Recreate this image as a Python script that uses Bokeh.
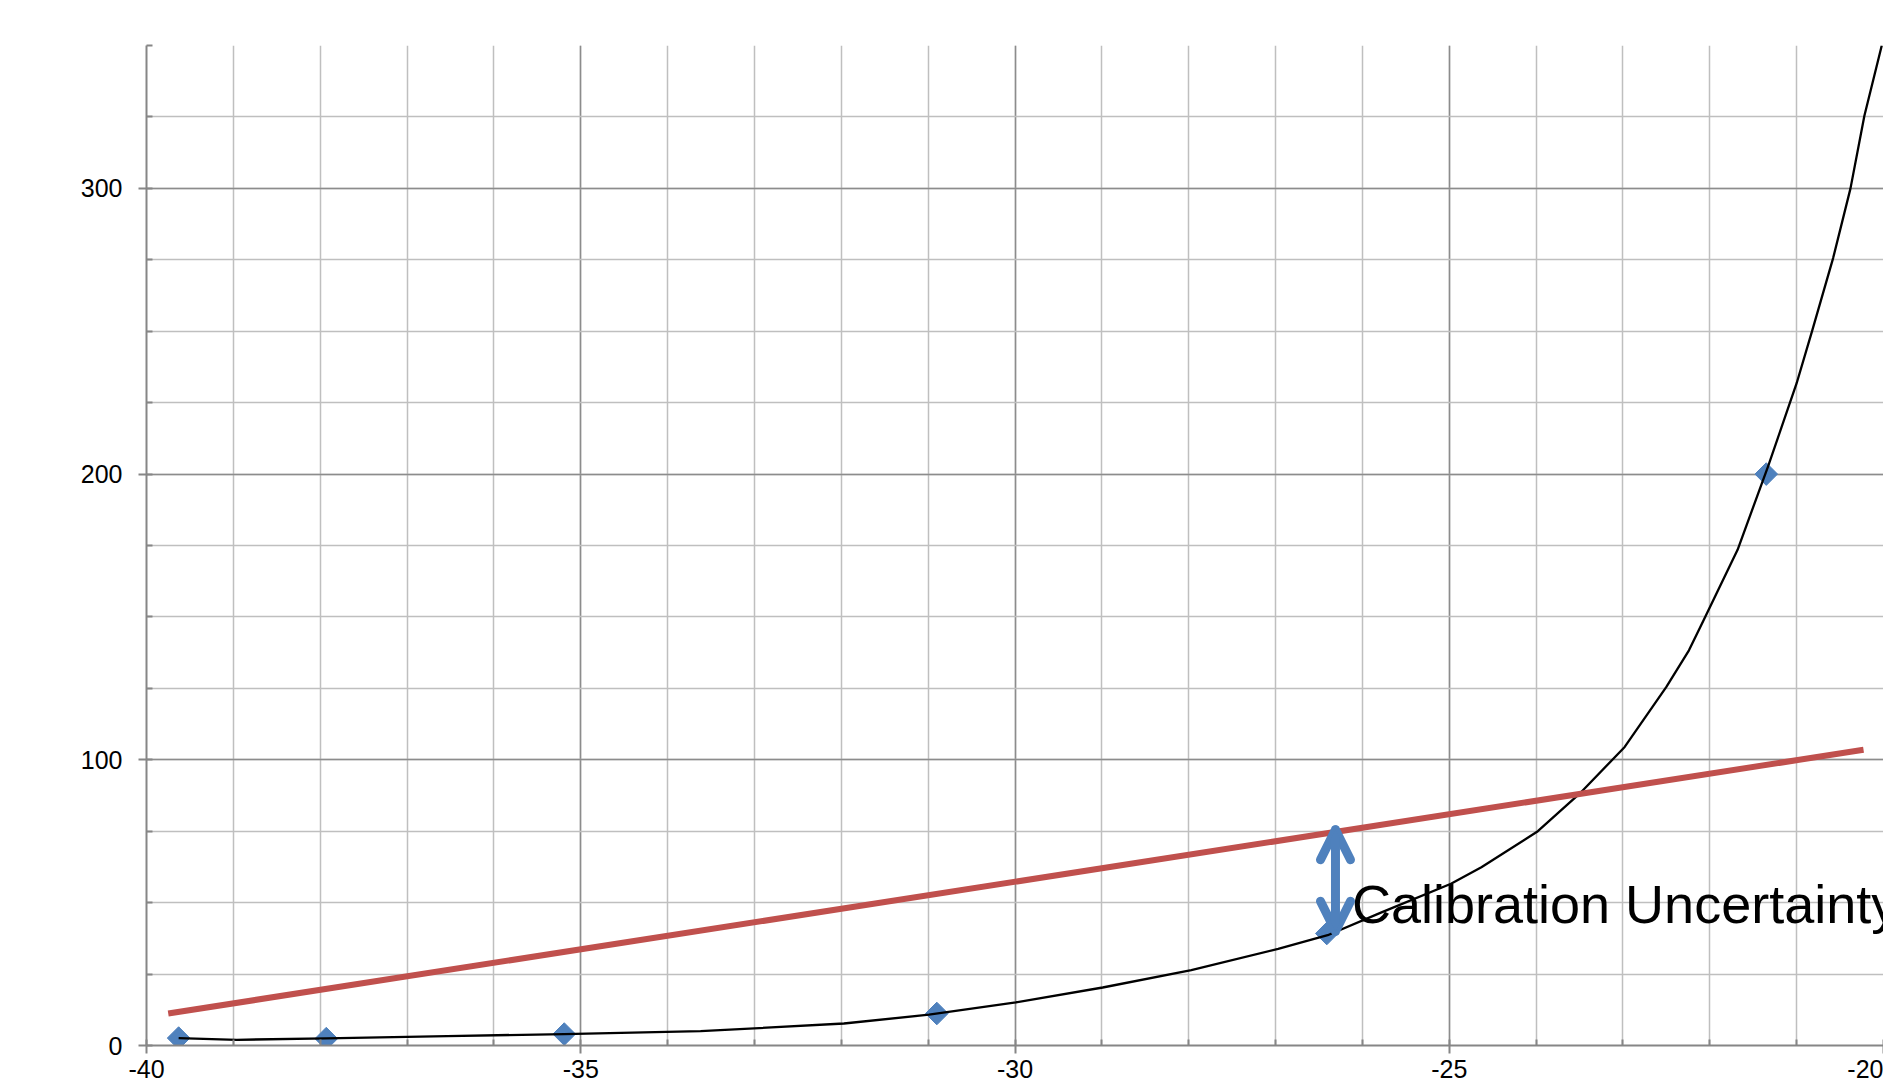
from bokeh.plotting import figure
from bokeh.models import Range1d, SingleIntervalTicker, Arrow, OpenHead
from bokeh.core.properties import value
from bokeh.embed import file_html
from bokeh.resources import INLINE

# measured points (blue diamonds)
point_x = [-39.63, -37.93, -35.19, -30.90, -26.41, -21.35]
point_y = [2.6, 2.4, 4.0, 11.2, 39.2, 200.0]

# black fitted curve, read along its path
curve_x = [-39.63, -38.96, -37.93, -36.54, -35.19, -33.62, -31.97, -30.99,
           -29.99, -28.99, -27.97, -26.97, -26.40, -25.78, -24.98, -24.63,
           -23.98, -23.48, -22.98, -22.50, -22.24, -22.07, -21.68,
           -21.33, -21.00, -20.82, -20.58, -20.38, -20.22, -20.02]
curve_y = [2.6, 2.0, 2.5, 3.3, 4.0, 5.0, 7.7, 10.8,
           15.1, 20.3, 26.4, 33.8, 38.6, 46.6, 56.6, 62.4,
           75.0, 88.7, 104.5, 125.5, 138.3, 148.9, 173.5,
           202.6, 231.8, 250.3, 275.6, 300.0, 325.4, 350.0]

# red calibration line
cal_x = [-39.75, -20.23]
cal_y = [11.2, 103.5]

# annotation
arrow_x = -26.31
arrow_y = [40.0, 75.5]
label_text = ["Calibration Uncertainty"]
label_x = [-26.12]
label_y = [49.4]

x_range = (-40, -20)
y_range = (0, 350)
x_tick_labels = {-40: "-40", -35: "-35", -30: "-30", -25: "-25", -20: "-20"}

p = figure(width=1883, height=1088,
           x_range=Range1d(*x_range), y_range=Range1d(*y_range),
           output_backend="svg", toolbar_location=None,
           min_border_left=146, min_border_right=0,
           min_border_top=45, min_border_bottom=43)
p.outline_line_color = None
p.background_fill_color = "white"
p.border_fill_color = "white"

xt = SingleIntervalTicker(interval=5, num_minor_ticks=5)
yt = SingleIntervalTicker(interval=100, num_minor_ticks=4)
p.xaxis.ticker = xt
p.yaxis.ticker = yt
p.xgrid.ticker = xt
p.ygrid.ticker = yt
p.xaxis.major_label_overrides = x_tick_labels

for g in (p.xgrid, p.ygrid):
    g.grid_line_color = "#8c8c8c"
    g.grid_line_width = 1.5
    g.minor_grid_line_color = "#bfbfbf"
    g.minor_grid_line_width = 1.5

for ax in (p.xaxis, p.yaxis):
    ax.axis_line_color = "#868686"
    ax.axis_line_width = 2
    ax.major_tick_line_color = "#868686"
    ax.major_tick_line_width = 2
    ax.major_tick_out = 8
    ax.major_tick_in = 0
    ax.minor_tick_line_color = "#868686"
    ax.minor_tick_line_width = 2
    ax.minor_tick_in = 6
    ax.minor_tick_out = 0
    ax.major_label_text_font = "Liberation Sans"
    ax.major_label_text_font_size = "25px"
    ax.major_label_text_color = "black"
p.yaxis.major_label_standoff = 16
p.xaxis.major_label_standoff = 6

p.scatter(point_x, point_y, marker="square", size=16, angle=0.785398,
          fill_color="#4F81BD", line_color="#4F81BD")
p.line(curve_x, curve_y, line_color="black", line_width=2.3, line_join="round")
p.line(cal_x, cal_y, line_color="#C0504D", line_width=6)

blue = "#4F81BD"
p.add_layout(Arrow(
    start=OpenHead(size=30, line_color=blue, line_width=9, line_cap="round", line_join="round"),
    end=OpenHead(size=30, line_color=blue, line_width=9, line_cap="round", line_join="round"),
    x_start=arrow_x, y_start=arrow_y[0], x_end=arrow_x, y_end=arrow_y[1],
    line_color=blue, line_width=9, line_cap="round"))

p.text(x=label_x, y=label_y, text=label_text, text_font=value("Liberation Sans"),
       text_font_size="54px", text_baseline="alphabetic", text_align="left",
       text_color="black")

open("out.html", "w").write(file_html(p, INLINE))
